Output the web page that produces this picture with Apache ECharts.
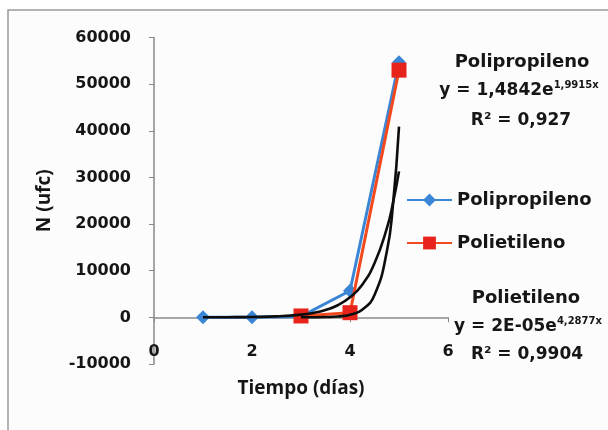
<!DOCTYPE html>
<html>
<head>
<meta charset="utf-8">
<script src="https://cdn.jsdelivr.net/npm/echarts@6/dist/echarts.min.js"></script>
<style>
html,body{margin:0;padding:0;background:#ffffff;}
#c{width:608px;height:430px;}
</style>
</head>
<body>
<div id="c"></div>
<script>
// ---- data ----
const ppDays = [1, 2, 3, 4, 5];
const ppValues = [0, 0, 200, 5700, 54700];
const peDays = [3, 4, 5];
const peValues = [300, 1000, 53000];
// trendline curves, values
const ppTrendX = [1, 1.5, 2, 2.5, 3, 3.25, 3.5, 3.75, 4, 4.25, 4.5, 4.75, 4.875, 5];
const ppTrendY = [10, 30, 80, 220, 580, 960, 1600, 2600, 4300, 7000, 11600, 19000, 24400, 31300];
const peTrendX = [3, 3.25, 3.5, 3.75, 4, 4.25, 4.5, 4.75, 4.875, 5];
const peTrendY = [8, 22, 66, 190, 560, 1640, 4800, 14000, 23900, 40900];
const xTicks = [0, 2, 4, 6];
const yTicks = [-10000, 0, 10000, 20000, 30000, 40000, 50000, 60000];
const seriesNames = ['Polipropileno', 'Polietileno'];
const ppEq = {name: 'Polipropileno', coef: '1,4842', exp: '1,9915x', r2: '0,927'};
const peEq = {name: 'Polietileno', coef: '2E-05', exp: '4,2877x', r2: '0,9904'};

const pair = (xs, ys) => xs.map((x, i) => [x, ys[i]]);
const FONT = 'DejaVu Sans';
const TFONT = 'Open Sans';
const TXT = '#161616';

const chart = echarts.init(document.getElementById('c'));
function eqText(e) {
  return '{a|y = ' + e.coef + 'e}{s|' + e.exp + '}';
}
const rich = {
  a: {fontFamily: FONT, fontWeight: 'bold', fontSize: 17, fill: TXT},
  s: {fontFamily: FONT, fontWeight: 'bold', fontSize: 10, fill: TXT, padding: [0, 0, 11, 0]}
};
const bold = (size) => 'bold ' + size + 'px "' + FONT + '"';
chart.setOption({
  backgroundColor: '#ffffff',
  animation: false,
  grid: {left: 154, right: 160, top: 37.5, bottom: 66},
  xAxis: [{
    type: 'value', min: xTicks[0], max: xTicks[xTicks.length - 1], interval: 2,
    axisLine: {onZero: true, lineStyle: {color: '#8a8a8a', width: 1.5}},
    axisTick: {show: true, length: 5, lineStyle: {color: '#8a8a8a'}},
    axisLabel: {show: false},
    splitLine: {show: false}
  }, {
    type: 'value', position: 'bottom', min: xTicks[0], max: xTicks[xTicks.length - 1], interval: 2,
    axisLine: {show: false}, axisTick: {show: false}, splitLine: {show: false},
    axisLabel: {margin: -20, fontFamily: FONT, fontWeight: 'bold', fontSize: 16, color: TXT},
    name: 'Tiempo (días)', nameLocation: 'middle', nameGap: 15,
    nameTextStyle: {fontFamily: TFONT, fontWeight: 700, fontSize: 19, color: TXT}
  }],
  yAxis: {
    type: 'value', min: yTicks[0], max: yTicks[yTicks.length - 1], interval: 10000,
    axisLine: {show: true, onZero: false, lineStyle: {color: '#8a8a8a', width: 1.5}},
    axisTick: {show: true, length: 5, lineStyle: {color: '#8a8a8a'}},
    axisLabel: {margin: 23, fontFamily: FONT, fontWeight: 'bold', fontSize: 16, color: TXT, formatter: v => String(v)},
    splitLine: {show: false},
    name: 'N (ufc)', nameLocation: 'middle', nameGap: 100, nameRotate: 90,
    nameTextStyle: {fontFamily: TFONT, fontWeight: 700, fontSize: 19, color: TXT}
  },
  legend: {
    data: seriesNames, orient: 'vertical', left: 401, top: 186, itemGap: 25,
    itemWidth: 45, itemHeight: 16,
    textStyle: {fontFamily: FONT, fontWeight: 'bold', fontSize: 18, color: TXT}
  },
  series: [{
    name: seriesNames[0], type: 'line', data: pair(ppDays, ppValues),
    symbol: 'diamond', symbolSize: 14, z: 2,
    lineStyle: {color: '#3b86d4', width: 3}, itemStyle: {color: '#3b86d4'}
  }, {
    name: seriesNames[1], type: 'line', data: pair(peDays, peValues),
    symbol: 'rect', symbolSize: 15, z: 3,
    lineStyle: {color: '#f24a1e', width: 3}, itemStyle: {color: '#e8231b'}
  }, {
    name: 'ppTrend', type: 'line', data: pair(ppTrendX, ppTrendY), smooth: true,
    showSymbol: false, z: 4, lineStyle: {color: '#0d0d0d', width: 2.6}, silent: true
  }, {
    name: 'peTrend', type: 'line', data: pair(peTrendX, peTrendY), smooth: true,
    showSymbol: false, z: 4, lineStyle: {color: '#0d0d0d', width: 2.6}, silent: true
  }],
  graphic: [
    {type: 'rect', shape: {x: 8, y: 10, width: 640, height: 460}, style: {fill: '#fcfcfc', stroke: '#9a9a9a', lineWidth: 1.5}, z: -10},
    {type: 'text', x: 522, y: 62, style: {text: ppEq.name, font: bold(18), fill: TXT, align: 'center', verticalAlign: 'middle'}},
    {type: 'text', x: 519, y: 91, style: {text: eqText(ppEq), rich: rich, align: 'center', verticalAlign: 'middle'}},
    {type: 'text', x: 521, y: 121, style: {text: 'R² = ' + ppEq.r2, font: bold(17), fill: TXT, align: 'center', verticalAlign: 'middle'}},
    {type: 'text', x: 526, y: 298, style: {text: peEq.name, font: bold(18), fill: TXT, align: 'center', verticalAlign: 'middle'}},
    {type: 'text', x: 528, y: 327, style: {text: eqText(peEq), rich: rich, align: 'center', verticalAlign: 'middle'}},
    {type: 'text', x: 527, y: 355, style: {text: 'R² = ' + peEq.r2, font: bold(17), fill: TXT, align: 'center', verticalAlign: 'middle'}}
  ]
});
</script>
</body>
</html>
